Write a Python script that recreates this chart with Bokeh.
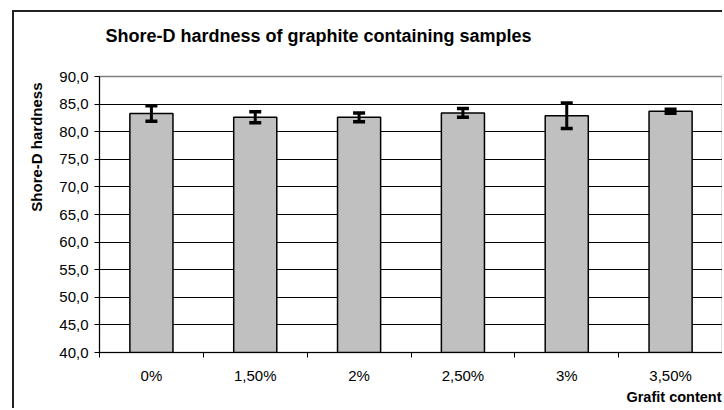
from bokeh.plotting import figure
from bokeh.models import (ColumnDataSource, Whisker, TeeHead, FixedTicker, Range1d, Title)
from bokeh.embed import file_html
from bokeh.resources import INLINE

categories = ["0%", "1,50%", "2%", "2,50%", "3%", "3,50%"]
hardness = [83.3, 82.6, 82.6, 83.4, 82.9, 83.7]
errors = [1.4, 1.0, 0.8, 0.8, 2.3, 0.35]
y_ticks = [40, 45, 50, 55, 60, 65, 70, 75, 80, 85, 90]

xs = [i + 0.5 for i in range(len(categories))]
src = ColumnDataSource(dict(
    x=xs, top=hardness,
    upper=[h + e for h, e in zip(hardness, errors)],
    lower=[h - e for h, e in zip(hardness, errors)],
))

# outer chart border offset: 12px left, 10px top, 2px line
p = figure(width=710, height=398, output_backend="svg", toolbar_location=None,
           x_range=Range1d(0, len(categories)), y_range=Range1d(40, 90),
           min_border_left=85, min_border_right=2, min_border_top=64,
           min_border_bottom=58, title_location=None)
p.margin = (10, 0, 0, 12)
p.styles = {"border-top": "2px solid #222222", "border-left": "2px solid #222222"}
p.background_fill_color = "white"
p.border_fill_color = "white"
p.outline_line_color = "#808080"
p.outline_line_width = 1.5

p.vbar(x="x", top="top", bottom=40, width=0.415, source=src,
       fill_color="#C0C0C0", line_color="black", line_width=1.5)

w = Whisker(base="x", upper="upper", lower="lower", source=src, level="overlay",
            line_width=3, line_color="black",
            upper_head=TeeHead(size=12, line_width=3.5, line_color="black"),
            lower_head=TeeHead(size=12, line_width=3.5, line_color="black"))
p.add_layout(w)

# y axis
p.yaxis.ticker = FixedTicker(ticks=y_ticks)
p.yaxis.major_label_overrides = {t: f"{t:.1f}".replace(".", ",") for t in y_ticks}
p.yaxis.major_label_text_font = "Liberation Sans"
p.yaxis.major_label_text_font_size = "15px"
p.yaxis.major_label_text_color = "black"
p.yaxis.major_label_standoff = 6
p.yaxis.major_tick_in = 0
p.yaxis.major_tick_out = 5
p.yaxis.minor_tick_line_color = None
p.yaxis.axis_line_color = "black"
p.yaxis.major_tick_line_color = "black"

ylab = Title(text="Shore-D hardness", align="right", offset=6, standoff=22,
             vertical_align="middle",
             text_font="Liberation Sans", text_font_style="bold",
             text_font_size="15px", text_color="black")
p.add_layout(ylab, "left")

# x axis
p.xaxis.ticker = FixedTicker(ticks=xs, minor_ticks=list(range(len(categories) + 1)))
p.xaxis.major_label_overrides = {x: c for x, c in zip(xs, categories)}
p.xaxis.major_tick_line_color = None
p.xaxis.minor_tick_line_color = "black"
p.xaxis.minor_tick_in = 0
p.xaxis.minor_tick_out = 5
p.xaxis.axis_line_color = "black"
p.xaxis.major_label_text_font = "Liberation Sans"
p.xaxis.major_label_text_font_size = "15px"
p.xaxis.major_label_text_color = "black"
p.xaxis.major_label_standoff = 8

p.xgrid.grid_line_color = None
p.ygrid.ticker = FixedTicker(ticks=y_ticks[1:-1])
p.ygrid.grid_line_color = "black"
p.ygrid.grid_line_width = 1

# spacer between frame and title, then the title itself
spacer = Title(text=" ", text_font_size="10px", standoff=16)
p.add_layout(spacer, "above")
main_title = Title(text="Shore-D hardness of graphite containing samples",
                   align="left", offset=6, standoff=0, vertical_align="top",
                   text_font="Liberation Sans", text_font_style="bold",
                   text_font_size="18px", text_color="black")
p.add_layout(main_title, "above")

xlab = Title(text="Grafit content", align="right", offset=1, standoff=0,
             text_font="Liberation Sans", text_font_style="bold",
             text_font_size="14.5px", text_color="black")
p.add_layout(xlab, "below")

open("out.html", "w").write(file_html(p, INLINE))
